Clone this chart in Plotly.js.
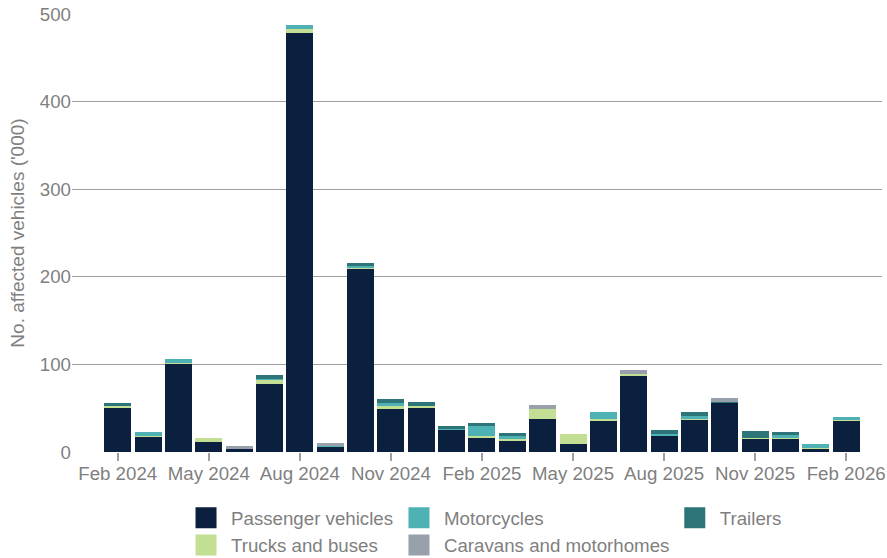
<!DOCTYPE html>
<html>
<head>
<meta charset="utf-8">
<script src="https://cdn.plot.ly/plotly-3.0.1.min.js"></script>
<style>
  html, body { margin: 0; padding: 0; background: #ffffff; }
  #chart { width: 887px; height: 558px; }
</style>
</head>
<body>
<div id="chart"></div>
<script>
// Months (categories)
const months = ['Feb 2024','Mar 2024','Apr 2024','May 2024','Jun 2024','Jul 2024','Aug 2024','Sep 2024',
  'Oct 2024','Nov 2024','Dec 2024','Jan 2025','Feb 2025','Mar 2025','Apr 2025','May 2025','Jun 2025',
  'Jul 2025','Aug 2025','Sep 2025','Oct 2025','Nov 2025','Dec 2025','Jan 2026','Feb 2026'];

// Affected vehicles ('000) by category
const passenger   = [51, 18, 101, 11, 3, 77.5, 478, 6, 209, 50, 51, 26, 16.5, 13.5, 37.5, 9.5, 36.5, 87, 19, 37, 56.5, 15, 15, 4, 35.5];
const trucks      = [1.5, 0.5, 1, 4.5, 0, 5, 4.5, 0, 1, 2, 2, 0, 1.5, 1, 11.5, 10.5, 0.8, 1.5, 0, 0.5, 0, 1.5, 1.5, 0.5, 1];
const motorcycles = [0, 4.5, 4.5, 0, 0, 1, 4.5, 0.5, 2.5, 4.5, 0, 0.5, 11.5, 3.5, 0, 0, 8, 0, 1.5, 4, 0, 0, 2.5, 4.5, 3.5];
const trailers    = [4, 0, 0, 0, 0, 4, 0, 0, 3.5, 3.5, 4.5, 3, 3.5, 4, 0, 0, 0, 0, 4.5, 4, 1, 7.5, 4, 0, 0];
const caravans    = [0, 0, 0, 0, 4, 0, 0, 4, 0, 0, 0, 0, 0, 0, 4.5, 0, 0, 5, 0, 0, 4.5, 0, 0, 0, 0];

const seriesNames = ['Passenger vehicles', 'Trucks and buses', 'Motorcycles', 'Trailers', 'Caravans and motorhomes'];
const tickLabels = months.filter((m, i) => i % 3 === 0);
const yTicks = [0, 100, 200, 300, 400, 500];

const colors = {
  'Passenger vehicles': '#0b1f3f',
  'Trucks and buses': '#c3df93',
  'Motorcycles': '#4eb1b4',
  'Trailers': '#2e7579',
  'Caravans and motorhomes': '#97a0ab'
};
const legendFor = {
  'Passenger vehicles': 'legend',
  'Trucks and buses': 'legend',
  'Motorcycles': 'legend2',
  'Caravans and motorhomes': 'legend2',
  'Trailers': 'legend3'
};
const legendOrder = ['Passenger vehicles', 'Trucks and buses', 'Motorcycles', 'Caravans and motorhomes', 'Trailers'];

const values = [passenger, trucks, motorcycles, trailers, caravans];

const traces = [];
seriesNames.forEach((name, k) => {
  traces.push({
    type: 'bar', name: name, x: months, y: values[k],
    marker: { color: colors[name], line: { width: 0 } },
    legendgroup: name, showlegend: false,
    hovertemplate: '%{x}<br>' + name + ': %{y}<extra></extra>'
  });
});
// legend entries (large square swatches)
legendOrder.forEach((name, k) => {
  traces.push({
    type: 'scatter', mode: 'markers', name: name, x: [null], y: [null],
    legend: legendFor[name], legendgroup: name, legendrank: k + 1,
    marker: { symbol: 'square', size: 16, color: colors[name], line: { width: 5, color: colors[name] } },
    hoverinfo: 'skip'
  });
});

const font = { family: 'Arial, "Liberation Sans", sans-serif', size: 18.7, color: '#7f7f7f' };
const legendBase = {
  orientation: 'v', xanchor: 'left', yanchor: 'top', y: -0.1073,
  font: font, itemwidth: 40, tracegroupgap: 0, bgcolor: 'rgba(0,0,0,0)', borderwidth: 0
};

const layout = {
  width: 887, height: 558,
  margin: { l: 72, r: 5, t: 14, b: 106, autoexpand: false },
  paper_bgcolor: '#ffffff', plot_bgcolor: '#ffffff',
  font: font,
  barmode: 'stack', bargap: 0.11,
  xaxis: {
    type: 'category', range: [-1.506, 25.18], automargin: false,
    tickmode: 'array', tickvals: tickLabels, ticktext: tickLabels,
    ticks: 'outside', ticklen: 8, tickcolor: '#a0a0a0', tickwidth: 1.5,
    ticklabelstandoff: -3,
    showgrid: false, showline: false, zeroline: false,
    tickfont: font
  },
  yaxis: {
    range: [0, 500], tickmode: 'array', tickvals: yTicks, automargin: false,
    showgrid: true, gridcolor: '#a0a0a0', gridwidth: 1,
    zeroline: false, showline: false, ticks: '',
    tickfont: font,
    title: { text: "No. affected vehicles ('000)", font: Object.assign({}, font, { size: 19 }) }
  },
  legend: Object.assign({}, legendBase, { x: 0.1346 }),
  legend2: Object.assign({}, legendBase, { x: 0.3975 }),
  legend3: Object.assign({}, legendBase, { x: 0.738 }),
  showlegend: true
};

Plotly.newPlot('chart', traces, layout, { displayModeBar: false, staticPlot: false });
</script>
</body>
</html>
